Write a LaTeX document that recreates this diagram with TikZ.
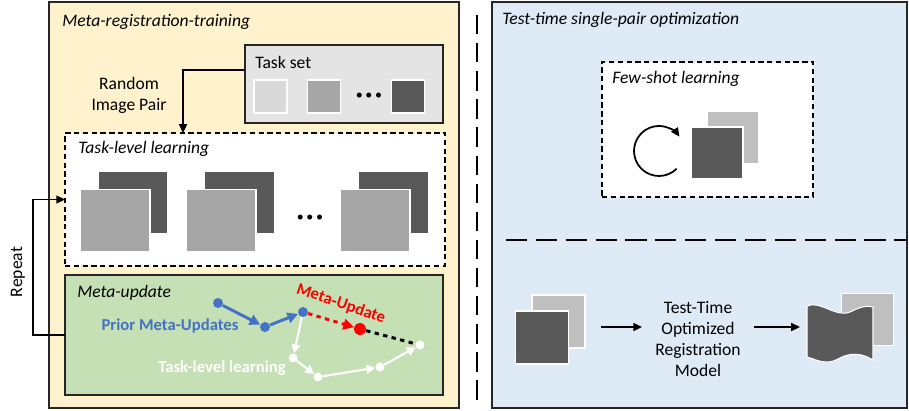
\documentclass[tikz,border=0pt]{standalone}
\usepackage{fontspec}
\setmainfont{Carlito}
\definecolor{tanfill}{HTML}{FFF2CC}
\definecolor{icefill}{HTML}{DEEBF7}
\definecolor{leaf}{HTML}{C5E0B4}
\definecolor{paper}{HTML}{E4E4E4}
\definecolor{frame}{HTML}{262626}
\definecolor{imglight}{HTML}{D9D9D9}
\definecolor{imgmid}{HTML}{A6A6A6}
\definecolor{imgpale}{HTML}{BFBFBF}
\definecolor{imgdark}{HTML}{595959}
\definecolor{priorblue}{HTML}{4472C4}
\usetikzlibrary{positioning, arrows.meta}

\begin{document}
\begin{tikzpicture}[
  x=0.02cm, y=-0.02cm,
  font=\fontsize{10}{12}\selectfont,
  panel/.style={draw=frame, line width=1.1pt, inner sep=0pt, outer sep=0pt},
  subpanel/.style={draw=frame, line width=1.6pt, inner sep=0pt, outer sep=0pt},
  dashpanel/.style={draw=black, fill=white, line width=1.2pt,
    dash pattern=on 3pt off 2pt, inner sep=0pt, outer sep=0pt},
  boxtitle/.style={anchor=base west, font=\fontsize{10}{12}\selectfont\itshape, inner sep=0pt},
  imgsq/.style={draw=white, line width=0.6pt, inner sep=0pt},
  ellip/.style={font=\fontsize{8}{8}\selectfont, inner sep=0pt},
  arr/.style={-{Triangle[length=5pt,width=4.5pt]}, line width=1pt},
  bdot/.style={circle, fill=priorblue, minimum size=0.2cm, inner sep=0pt},
  wdot/.style={circle, fill=white, minimum size=0.18cm, inner sep=0pt},
  rdot/.style={circle, fill=red, minimum size=0.24cm, inner sep=0pt},
  bstep/.style={draw=priorblue, line width=1.7pt, -{Triangle[length=6pt,width=6pt]}},
  wstep/.style={draw=white, line width=1.2pt, -{Triangle[length=5pt,width=5pt]}},
  tag/.style={font=\fontsize{9.5}{11}\selectfont\bfseries, inner sep=0pt},
]
  \useasboundingbox (0,0) rectangle (909,410);

  % the two panels
  \node[panel, fill=tanfill, minimum width=8.2cm, minimum height=8.12cm] (trainbox) at (254,205) {};
  \node[panel, fill=icefill, minimum width=8.3cm, minimum height=8.12cm] (testbox) at (699.5,205) {};
  \draw[line width=1.2pt, dash pattern=on 11pt off 5pt] (477,15) -- (477,405);
  \node[boxtitle] (traintitle) at (62,26) {Meta-registration-training};
  \node[boxtitle] (testtitle) at (502,24) {Test-time single-pair optimization};

  % task set
  \node[subpanel, fill=paper, minimum width=3.96cm, minimum height=1.56cm] (taskset) at (344,84) {};
  \node[anchor=base west, inner sep=0pt] (tasksetlabel) at (255,68) {Task set};
  \node[imgsq, fill=imglight, minimum size=0.66cm] (ts1) at (270.5,96.5) {};
  \node[imgsq, fill=imgmid, minimum size=0.66cm] (ts2) at (324,96.5) {};
  \node[ellip] (tsdots) at (369,96) {\textbullet\hspace{1.5pt}\textbullet\hspace{1.5pt}\textbullet};
  \node[imgsq, fill=imgdark, minimum size=0.66cm] (ts3) at (408,96.5) {};
  \node[align=center, inner sep=0pt] (pairlabel) at (129,95) {Random\\Image Pair};

  % task-level learning
  \node[dashpanel, minimum width=7.6cm, minimum height=2.66cm] (tasklevel) at (255,199.5) {};
  \node[boxtitle] (tasklevtitle) at (78,153) {Task-level learning};
  \node[imgsq, fill=imgdark, minimum width=1.4cm, minimum height=1.24cm] (pb1) at (133,202.5) {};
  \node[imgsq, fill=imgmid, minimum width=1.4cm, minimum height=1.24cm] (pf1) at (115,220.5) {};
  \node[imgsq, fill=imgdark, minimum width=1.4cm, minimum height=1.24cm] (pb2) at (239.5,202.5) {};
  \node[imgsq, fill=imgmid, minimum width=1.4cm, minimum height=1.24cm] (pf2) at (221,220.5) {};
  \node[ellip] (pdots) at (310,218) {\textbullet\hspace{1.5pt}\textbullet\hspace{1.5pt}\textbullet};
  \node[imgsq, fill=imgdark, minimum width=1.4cm, minimum height=1.24cm] (pb3) at (393.5,202.5) {};
  \node[imgsq, fill=imgmid, minimum width=1.4cm, minimum height=1.24cm] (pf3) at (375,220.5) {};
  \draw[arr] ([yshift=-0.5cm]taskset.north west) -| ([xshift=-1.44cm]tasklevel.north);

  % meta-update
  \node[subpanel, fill=leaf, minimum width=7.56cm, minimum height=2.4cm] (metaupd) at (254,335) {};
  \node[boxtitle] (metatitle) at (77,297) {Meta-update};
  \node[bdot] (b1) at (218,303) {};
  \node[bdot] (b2) at (265,327) {};
  \node[bdot] (b3) at (303,312) {};
  \node[rdot] (r1) at (360,329) {};
  \node[wdot] (w1) at (293,358) {};
  \node[wdot] (w2) at (318,377) {};
  \node[wdot] (w3) at (380,367) {};
  \node[wdot] (w4) at (420,345) {};
  \draw[bstep] (b1) -- (b2);
  \draw[bstep] (b2) -- (b3);
  \draw[red, line width=1.7pt, dash pattern=on 2.5pt off 2.5pt, -{Triangle[length=6pt,width=6pt]}] (b3) -- (r1);
  \draw[black, line width=1.7pt, dash pattern=on 2.5pt off 2.5pt] (r1) -- (w4);
  \draw[wstep] (b3) -- (w1);
  \draw[wstep] (w1) -- (w2);
  \draw[wstep] (w2) -- (w3);
  \draw[wstep] (w3) -- (w4);
  \node[tag, text=priorblue] (priorlabel) at (170,326) {Prior Meta-Updates};
  \node[tag, text=red, rotate=-19] (metalabel) at (341,304) {Meta-Update};
  \node[tag, text=white] (innerlabel) at (222,368) {Task-level learning};

  % repeat loop
  \draw[arr] (metaupd.west) -- ++(-0.64cm,0) |- (tasklevel.west);
  \node[rotate=90, inner sep=0pt] (repeat) at (18,272) {Repeat};

  % few-shot learning
  \node[dashpanel, minimum width=4.22cm, minimum height=2.7cm] (fewshot) at (707.5,129.5) {};
  \node[boxtitle] (fewtitle) at (612,83) {Few-shot learning};
  \coordinate (loopc) at (659,151);
  \draw[arr] ([shift={(-45:0.5cm)}]loopc) arc[start angle=-45, end angle=-325, radius=0.5cm];
  \node[imgsq, fill=imgpale, minimum size=1.04cm] (fsback) at (733,137.5) {};
  \node[imgsq, fill=imgdark, minimum size=1.04cm] (fsfront) at (717,153) {};

  \draw[line width=1.1pt, dash pattern=on 12pt off 5pt] (506,240) -- (907,240);

  % test-time registration
  \node[imgsq, fill=imgpale, minimum size=1.06cm] (inback) at (558.5,321.5) {};
  \node[imgsq, fill=imgdark, minimum size=1.06cm] (infront) at (542,337.5) {};
  \node[align=center, inner sep=0pt] (model) at (698,339) {Test-Time\\Optimized\\Registration\\Model};
  \node[imgsq, fill=imgpale, minimum size=1.04cm] (outback) at (867.5,319.5) {};
  \draw[imgsq, fill=imgdark] (807,306) .. controls (820,300) and (836,318) .. (850,312)
    .. controls (860,307) and (867,305) .. (873,307) -- (873,360)
    .. controls (862,353) and (850,352) .. (838,359)
    .. controls (826,366) and (815,359) .. (807,357) -- cycle;
  \coordinate (arrowrow) at (0,327);
  \coordinate (outfront) at (807,333);
  \draw[arr, shorten <=0.3cm, shorten >=0.26cm] (inback.east |- arrowrow) -- (model.west |- arrowrow);
  \draw[arr, shorten <=0.26cm, shorten >=0.14cm] (model.east |- arrowrow) -- (outfront |- arrowrow);
\end{tikzpicture}
\end{document}
